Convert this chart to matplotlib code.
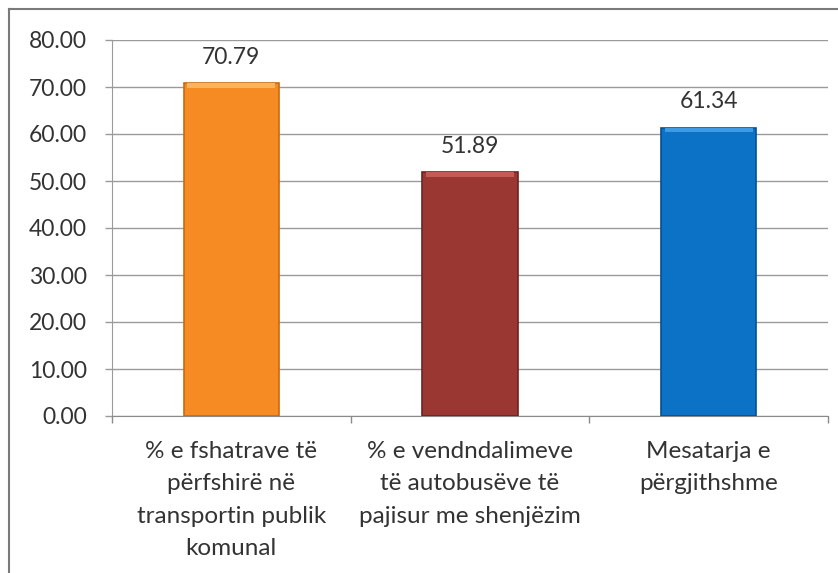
import matplotlib
matplotlib.use("Agg")
import matplotlib.pyplot as plt
from matplotlib.lines import Line2D

categories = ["% e fshatrave të\npërfshirë në\ntransportin publik\nkomunal",
              "% e vendndalimeve\ntë autobusëve të\npajisur me shenjëzim",
              "Mesatarja e\npërgjithshme"]
values = [70.79, 51.89, 61.34]
colors = ["#F68B24", "#9A3733", "#0B72C6"]
highlights = ["#FBB45C", "#C25A56", "#3D9BE6"]
edges = ["#C86A10", "#6E2220", "#07508E"]
yticks = [0, 10, 20, 30, 40, 50, 60, 70, 80]

plt.rcParams['font.family'] = ['Lato', 'DejaVu Sans']

fig = plt.figure(figsize=(8.38, 5.73), dpi=100)
ax = fig.add_axes([112/838, 1-416/573, (828-112)/838, (416-40)/573])

x = list(range(len(categories)))
ax.bar(x, values, width=0.40, color=colors, edgecolor=edges, linewidth=1.2, zorder=3)
# bevel highlight along the top of each bar
cap = 1.0
ax.bar(x, [cap] * len(values), bottom=[v - cap for v in values], width=0.37,
       color=highlights, linewidth=0, zorder=4)
for xi, v in zip(x, values):
    ax.annotate(f"{v:.2f}", (xi, v), xytext=(0, 11), textcoords="offset points",
                ha="center", va="bottom", fontsize=16.5, color="#333333")

ax.set_xlim(-0.5, 2.5)
ax.set_ylim(0, 80)
ax.set_yticks(yticks)
ax.set_yticklabels([f"{t:.2f}" for t in yticks], fontsize=16.5, color="#333333")
ax.yaxis.grid(True, color="#9a9a9a", linewidth=1.0, zorder=0)
ax.set_axisbelow(True)
ax.set_xticks([-0.5, 0.5, 1.5, 2.5])
ax.set_xticklabels([])
ax.tick_params(axis="x", length=5, color="#8a8a8a", width=1)
ax.tick_params(axis="y", length=5, color="#9a9a9a", width=1, pad=13)
for xi, c in zip(x, categories):
    ax.text(xi, -0.066, c, transform=ax.get_xaxis_transform(), ha="center", va="top",
            fontsize=17.5, color="#333333", linespacing=1.68)
for s in ["top", "right"]:
    ax.spines[s].set_visible(False)
ax.spines["left"].set_color("#9a9a9a")
ax.spines["bottom"].set_color("#8a8a8a")

# outer chart frame (left and top edges visible)
fig.add_artist(Line2D([9/838, 9/838], [0, 1-9/573], transform=fig.transFigure, color="#7a7a7a", linewidth=1.5))
fig.add_artist(Line2D([9/838, 1], [1-9/573, 1-9/573], transform=fig.transFigure, color="#7a7a7a", linewidth=1.5))

fig.savefig("out.png", dpi=100)
